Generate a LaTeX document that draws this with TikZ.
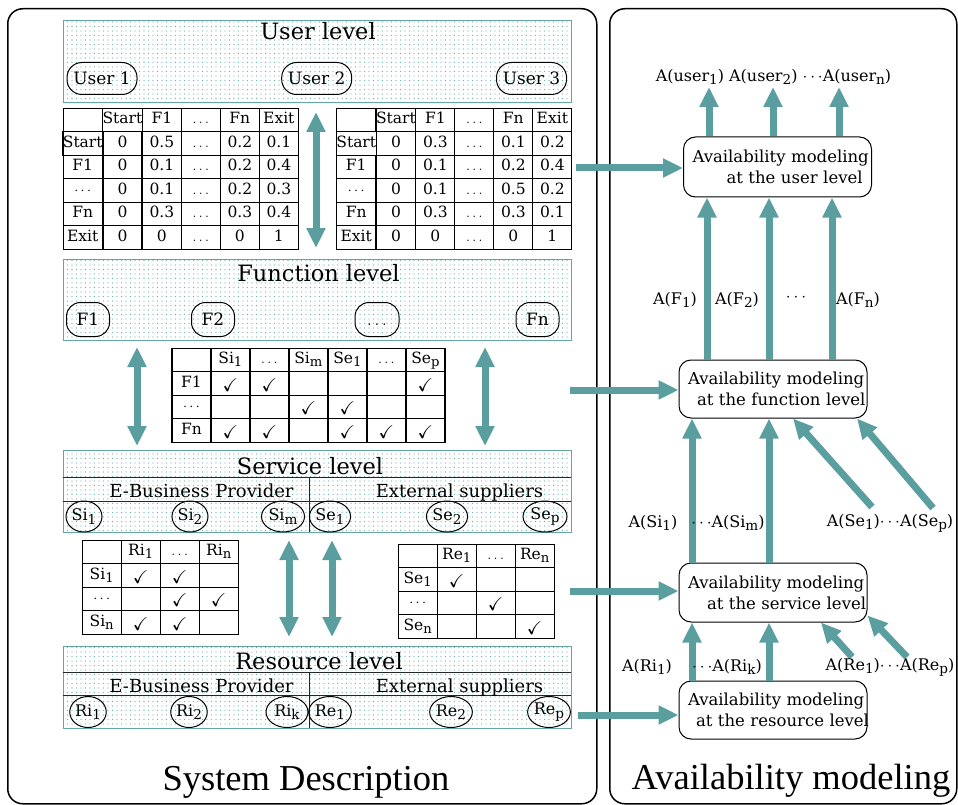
\documentclass[tikz,border=0pt]{standalone}
\usepackage{fontspec}
\usepackage{graphicx}
\usepackage{amssymb}
\setmainfont{DejaVu Serif}
\newfontfamily\titlefont{Liberation Serif}
\usetikzlibrary{arrows.meta,patterns.meta,shapes.geometric,matrix,calc}

\definecolor{arrowc}{RGB}{91,158,160}
\definecolor{dotc}{RGB}{110,172,172}
\definecolor{boxc}{RGB}{100,165,165}

\newcommand\sbs[1]{\raisebox{-0.4ex}{\scalebox{0.85}{#1}}}
\newcommand\ck{\raisebox{-0.5ex}{\scalebox{1.2}{$\checkmark$}}}
\newcommand\vd{$\cdots$}
\newcommand\bd{$\ldots$}

\tikzset{
  panel/.style={draw=black, line width=1.5pt, rounded corners=15pt, inner sep=0pt, anchor=north west},
  levelbox/.style={draw=boxc, line width=1.2pt, pattern={Dots[distance=4.5pt,radius=0.65pt]}, pattern color=dotc, inner sep=0pt, minimum width=507.5pt, anchor=north west},
  leveltitle/.style={font=\fontsize{22.5}{26}\selectfont, anchor=base, inner sep=0pt},
  subtitle/.style={font=\fontsize{18}{20}\selectfont, anchor=base, inner sep=0pt},
  roundnode/.style={draw=black, line width=1pt, rounded corners=15pt, minimum height=32pt, inner sep=0pt, text height=12pt, text depth=0pt, font=\fontsize{17}{19}\selectfont},
  ovalnode/.style={draw=black, line width=1pt, ellipse, minimum height=31pt, minimum width=36pt, inner sep=0pt, font=\fontsize{16}{18}\selectfont},
  divline/.style={draw=black!85, line width=0.9pt},
  tab/.style={matrix of nodes, nodes in empty cells, column sep=-1.2pt, row sep=-1.2pt, inner sep=0pt, anchor=north west,
    nodes={draw=black, line width=1.2pt, minimum width=39pt, minimum height=23.5pt, inner sep=0pt, anchor=center, text height=11pt, text depth=3.5pt, font=\fontsize{15.5}{17}\selectfont}},
  model/.style={draw=black, line width=1pt, rounded corners=12pt, align=left, inner xsep=9pt, inner ysep=0pt, text width=170pt, font=\fontsize{16.5}{21}\selectfont, minimum height=58pt},
  lab/.style={font=\fontsize{16}{18}\selectfont, inner sep=0pt},
  bigtitle/.style={font=\titlefont\fontsize{36.5}{40}\selectfont, anchor=base, inner sep=0pt},
  bigarrow/.style={draw=arrowc, line width=7pt, -{Triangle[width=18pt,length=20pt]}},
  dblarrow/.style={draw=arrowc, line width=7pt, {Triangle[width=18pt,length=20pt]}-{Triangle[width=18pt,length=20pt]}}
}

\begin{document}
\begin{tikzpicture}[x=1pt,y=-1pt]
\useasboundingbox (0,0) rectangle (958,805);

% outer panels
\node[panel, minimum width=589pt, minimum height=795pt] (lp) at (7,8) {};
\node[panel, minimum width=347pt, minimum height=795pt] (rp) at (609,8) {};
\node[bigtitle] (sdt) at (306,790) {System Description};
\node[bigtitle] (amt) at (791,789) {Availability modeling};

% level boxes
\node[levelbox, minimum height=82pt] (ulev) at (63,20) {};
\node[levelbox, minimum height=81pt] (flev) at (63,259) {};
\node[levelbox, minimum height=82pt] (slev) at (63,450) {};
\node[levelbox, minimum height=81.5pt] (rlev) at (63,646) {};

% service & resource subdivisions
\draw[divline] (63,477) -- (570.5,477);
\draw[divline] (63,501) -- (570.5,501);
\draw[divline] (309,477) -- (309,532);
\draw[divline] (63,672.7) -- (570.5,672.7);
\draw[divline] (63,695.7) -- (570.5,695.7);
\draw[divline] (309,672.7) -- (309,727.5);

% titles
\node[leveltitle] (ult) at (318,40) {User level};
\node[leveltitle] (flt) at (318.5,281) {Function level};
\node[leveltitle] (slt) at (310,474) {Service level};
\node[leveltitle] (rlt) at (319,669) {Resource level};
\node[subtitle] (seb) at (201.5,497) {E-Business Provider};
\node[subtitle] (sex) at (459.5,497) {External suppliers};
\node[subtitle] (reb) at (201.5,692) {E-Business Provider};
\node[subtitle] (rex) at (459.5,692) {External suppliers};

% user nodes
\node[roundnode, minimum width=70pt] (u1) at (102,78.5) {User 1};
\node[roundnode, minimum width=70pt] (u2) at (316.7,78.5) {User 2};
\node[roundnode, minimum width=70pt] (u3) at (531.5,78.5) {User 3};

% function nodes
\node[roundnode, minimum width=43pt, minimum height=34pt, rounded corners=14pt] (f1) at (88,319.5) {F1};
\node[roundnode, minimum width=43pt, minimum height=34pt, rounded corners=14pt] (f2) at (213,319.5) {F2};
\node[roundnode, minimum width=44pt, minimum height=34pt, rounded corners=14pt] (f3) at (377,319.5) {\bd};
\node[roundnode, minimum width=43pt, minimum height=34pt, rounded corners=14pt] (fn) at (537.5,319.5) {Fn};

% service nodes
\node[ovalnode] (si1) at (84,516.5) {Si\sbs{1}};
\node[ovalnode] (si2) at (190,516.5) {Si\sbs{2}};
\node[ovalnode, minimum width=43pt] (sim) at (283,516.5) {Si\sbs{m}};
\node[ovalnode] (se1) at (330,516.5) {Se\sbs{1}};
\node[ovalnode] (se2) at (447,516.5) {Se\sbs{2}};
\node[ovalnode, minimum width=44pt] (sep) at (545,516.5) {Se\sbs{p}};

% resource nodes
\node[ovalnode, minimum width=35pt] (ri1) at (88,712) {Ri\sbs{1}};
\node[ovalnode, minimum width=35pt] (ri2) at (189,712) {Ri\sbs{2}};
\node[ovalnode, minimum width=42pt] (rik) at (287,712) {Ri\sbs{k}};
\node[ovalnode, minimum width=35pt] (re1) at (330,712) {Re\sbs{1}};
\node[ovalnode, minimum width=35pt] (re2) at (451,712) {Re\sbs{2}};
\node[ovalnode, minimum width=42pt] (rep) at (549,712) {Re\sbs{p}};

% tables
\matrix[tab] (t1) at (62.1,107.4) {
  & Start & F1 & \bd & Fn & Exit \\
Start & 0 & 0.5 & \bd & 0.2 & 0.1 \\
F1 & 0 & 0.1 & \bd & 0.2 & 0.4 \\
\vd & 0 & 0.1 & \bd & 0.2 & 0.3 \\
Fn & 0 & 0.3 & \bd & 0.3 & 0.4 \\
Exit & 0 & 0 & \bd & 0 & 1 \\
};
\matrix[tab] (t2) at (335.6,107.4) {
  & Start & F1 & \bd & Fn & Exit \\
Start & 0 & 0.3 & \bd & 0.1 & 0.2 \\
F1 & 0 & 0.1 & \bd & 0.2 & 0.4 \\
\vd & 0 & 0.1 & \bd & 0.5 & 0.2 \\
Fn & 0 & 0.3 & \bd & 0.3 & 0.1 \\
Exit & 0 & 0 & \bd & 0 & 1 \\
};
\matrix[tab] (t3) at (171.1,347.4) {
  & Si\sbs{1} & \bd & Si\sbs{m} & Se\sbs{1} & \bd & Se\sbs{p} \\
F1 & \ck & \ck & & & & \ck \\
\vd & & & \ck & \ck & & \\
Fn & \ck & \ck & & \ck & \ck & \ck \\
};
\matrix[tab] (t4) at (81.4,539.4) {
  & Ri\sbs{1} & \bd & Ri\sbs{n} \\
Si\sbs{1} & \ck & \ck & \\
\vd & & \ck & \ck \\
Si\sbs{n} & \ck & \ck & \\
};
\matrix[tab] (t5) at (397.4,543.4) {
  & Re\sbs{1} & \bd & Re\sbs{n} \\
Se\sbs{1} & \ck & & \\
\vd & & \ck & \\
Se\sbs{n} & & & \ck \\
};

% double arrows in system description
\coordinate (d1a) at (316,112); \coordinate (d1b) at (316,248);
\coordinate (d2a) at (137,347); \coordinate (d2b) at (137,446);
\coordinate (d3a) at (485,347); \coordinate (d3b) at (485,446);
\coordinate (d4a) at (289,540); \coordinate (d4b) at (289,637);
\coordinate (d5a) at (332,540); \coordinate (d5b) at (332,637);
\draw[dblarrow] (d1a) -- (d1b);
\draw[dblarrow] (d2a) -- (d2b);
\draw[dblarrow] (d3a) -- (d3b);
\draw[dblarrow] (d4a) -- (d4b);
\draw[dblarrow] (d5a) -- (d5b);

% model boxes
\node[model, minimum height=60pt] (umod) at (777.5,167) {\mbox{Availability modeling}\\\hspace*{34pt}\mbox{at the user level}};
\node[model] (fmod) at (773,389) {\mbox{Availability modeling}\\\hspace*{9pt}\mbox{at the function level}};
\node[model, minimum height=59pt] (smod) at (773,592.5) {\mbox{Availability modeling}\\\hspace*{19pt}\mbox{at the service level}};
\node[model] (rmod) at (773,710) {\mbox{Availability modeling}\\\hspace*{8pt}\mbox{at the resource level}};

% horizontal arrows
\coordinate (h1) at (576,168);
\coordinate (h2) at (570,390);
\coordinate (h3) at (570,591);
\coordinate (h4) at (578,715);
\draw[bigarrow] (h1) -- (h1 -| umod.west);
\draw[bigarrow] (h2) -- (h2 -| fmod.west);
\draw[bigarrow] (h3) -- (h3 -| smod.west);
\draw[bigarrow] (h4) -- (h4 -| rmod.west);

% user outputs
\node[lab] (ulab) at (773.5,77) {A(user\sbs{1}) A(user\sbs{2}) \vd A(user\sbs{n})};
\coordinate (ux1) at (709,87); \coordinate (ux2) at (773,87); \coordinate (ux3) at (839,87);
\draw[bigarrow] (ux1 |- umod.north) -- (ux1);
\draw[bigarrow] (ux2 |- umod.north) -- (ux2);
\draw[bigarrow] (ux3 |- umod.north) -- (ux3);

% function -> user
\coordinate (fx1) at (707,300); \coordinate (fx2) at (769,300); \coordinate (fx3) at (832,300);
\draw[bigarrow] (fx1 |- fmod.north) -- (fx1 |- umod.south);
\draw[bigarrow] (fx2 |- fmod.north) -- (fx2 |- umod.south);
\draw[bigarrow] (fx3 |- fmod.north) -- (fx3 |- umod.south);
\node[lab] (laf1) at (675,300) {A(F\sbs{1})};
\node[lab] (laf2) at (737,300) {A(F\sbs{2})};
\node[lab] (lafd) at (796,298) {\vd};
\node[lab] (lafn) at (858,300) {A(F\sbs{n})};

% service -> function
\coordinate (sx1) at (692,500); \coordinate (sx2) at (769,500);
\draw[bigarrow] (sx1 |- smod.north) -- (sx1 |- fmod.south);
\draw[bigarrow] (sx2 |- smod.north) -- (sx2 |- fmod.south);
\coordinate (sd1) at (872,507); \coordinate (sd2) at (933,508);
\draw[bigarrow] (sd1) -- ([xshift=20pt]fmod.south);
\draw[bigarrow] (sd2) -- ([xshift=84pt]fmod.south);
\node[lab] (lsi1) at (653,523) {A(Si\sbs{1})};
\node[lab] (lsim) at (728,523) {\vd A(Si\sbs{m})};
\node[lab] (lse) at (890,523) {A(Se\sbs{1})\vd A(Se\sbs{p})};

% resource -> service
\coordinate (rx1) at (692,660); \coordinate (rx2) at (769,660);
\draw[bigarrow] (rx1 |- rmod.north) -- (rx1 |- smod.south);
\draw[bigarrow] (rx2 |- rmod.north) -- (rx2 |- smod.south);
\coordinate (rd1) at (852,657); \coordinate (rd2) at (907,657);
\draw[bigarrow] (rd1) -- ([xshift=48pt]smod.south);
\draw[bigarrow] (rd2) -- ([yshift=7pt]smod.south east);
\node[lab] (lri1) at (647,667) {A(Ri\sbs{1})};
\node[lab] (lrik) at (727,667) {\vd A(Ri\sbs{k})};
\node[lab] (lre) at (890,667) {A(Re\sbs{1})\vd A(Re\sbs{p})};

\end{tikzpicture}
\end{document}
